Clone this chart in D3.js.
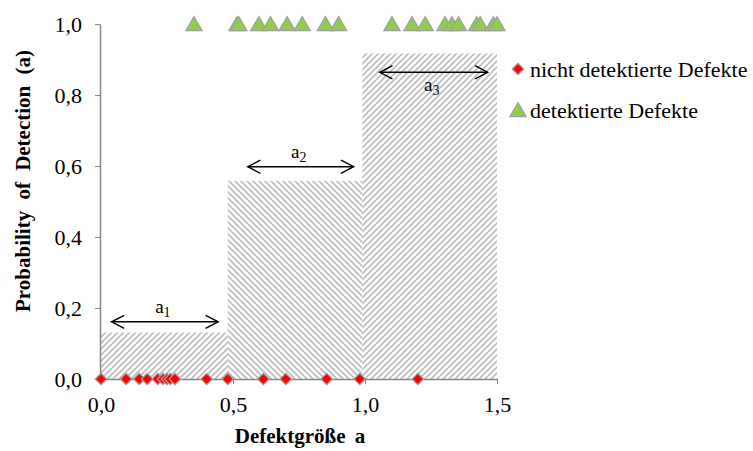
<!DOCTYPE html>
<html lang="de">
<head>
<meta charset="UTF-8">
<title>Probability of Detection</title>
<style>
  body { margin: 0; background: #fff; }
  svg { display: block; }
  svg text { font-family: 'Liberation Serif', 'Times New Roman', serif; fill: #000; }
  .axis path, .axis line { stroke: #868686; }
  .axis text { font-size: 22px; }
</style>
</head>
<body>
<svg width="753" height="451"></svg>
<script src="https://d3js.org/d3.v7.min.js"></script>
<script>
// Stufen der POD-Kurve (Klassengrenzen und Höhe je Klasse)
const binEdges = [0, 0.48, 0.99, 1.5];
const binPod = [0.131, 0.558, 0.917];
const binHatch = ["/", "\\", "/"];

// nicht detektierte Defekte (POD = 0)
const missed = [0.0, 0.095, 0.145, 0.175, 0.215, 0.235, 0.25, 0.262, 0.28, 0.40, 0.48, 0.615, 0.70, 0.855, 0.98, 1.20];
// detektierte Defekte (POD = 1)
const hits = [0.352, 0.515, 0.522, 0.598, 0.642, 0.705, 0.762, 0.85, 0.90, 1.102, 1.178, 1.228, 1.303, 1.329, 1.354, 1.423, 1.436, 1.486, 1.5];

// Pfeile a1..a3: von, bis, Höhe
const arrowLabels = ["1", "2", "3"];
const arrowFrom = [0.04, 0.556, 1.056];
const arrowTo = [0.444, 0.957, 1.465];
const arrowY = [0.161, 0.598, 0.864];

const xTicks = [0, 0.5, 1.0, 1.5];
const yTicks = [0, 0.2, 0.4, 0.6, 0.8, 1.0];

const svg = d3.select("svg");
const x = d3.scaleLinear().domain([0, 1.5]).range([101, 497]);
const y = d3.scaleLinear().domain([0, 1]).range([379, 24]);
const fmt = d => d3.format(".1f")(d).replace(".", ",");
const serif = "'Liberation Serif', 'Times New Roman', serif";

// Schraffuren
const defs = svg.append("defs");
[["hatchR", "M-1,1 l2,-2 M0,6 l6,-6 M5,7 l2,-2"], ["hatchL", "M-1,5 l2,2 M0,0 l6,6 M5,-1 l2,2"]].forEach(([id, p]) => {
  const pat = defs.append("pattern").attr("id", id)
    .attr("patternUnits", "userSpaceOnUse").attr("width", 6).attr("height", 6);
  pat.append("rect").attr("width", 6).attr("height", 6).attr("fill", "#fff");
  pat.append("path").attr("d", p).attr("stroke", "#bcbcbc").attr("stroke-width", 1.6);
});

svg.append("g").selectAll("rect")
  .data(binPod)
  .enter().append("rect")
  .attr("x", (d, i) => x(binEdges[i]))
  .attr("width", (d, i) => x(binEdges[i + 1]) - x(binEdges[i]))
  .attr("y", d => y(d))
  .attr("height", d => y(0) - y(d))
  .attr("fill", (d, i) => binHatch[i] === "/" ? "url(#hatchR)" : "url(#hatchL)");

// Achsen
svg.append("g").attr("class", "axis")
  .attr("transform", `translate(0,${y(0)})`)
  .call(d3.axisBottom(x).tickValues(xTicks).tickFormat(fmt).tickSize(5).tickSizeOuter(0).tickPadding(12))
  .attr("font-family", serif).attr("font-size", 22);
svg.append("g").attr("class", "axis")
  .attr("transform", `translate(${x(0) - 1},0)`)
  .call(d3.axisLeft(y).tickValues(yTicks).tickFormat(fmt).tickSize(5).tickSizeOuter(0).tickPadding(13))
  .attr("font-family", serif).attr("font-size", 22);
svg.selectAll(".axis .domain").attr("stroke-width", 1.5);

// Pfeile
defs.append("marker").attr("id", "arr").attr("viewBox", "0 0 16 16")
  .attr("refX", 14.5).attr("refY", 8).attr("markerWidth", 15).attr("markerHeight", 15)
  .attr("markerUnits", "userSpaceOnUse").attr("orient", "auto-start-reverse")
  .append("path").attr("d", "M1,1 L14.5,8 L1,15").attr("fill", "none").attr("stroke", "#000").attr("stroke-width", 1.5);

const arr = svg.append("g").selectAll("g").data(arrowLabels).enter().append("g");
arr.append("line")
  .attr("x1", (d, i) => x(arrowFrom[i])).attr("x2", (d, i) => x(arrowTo[i]))
  .attr("y1", (d, i) => y(arrowY[i])).attr("y2", (d, i) => y(arrowY[i]))
  .attr("stroke", "#000").attr("stroke-width", 1.5)
  .attr("marker-start", "url(#arr)").attr("marker-end", "url(#arr)");
const lab = arr.append("text")
  .attr("x", (d, i) => (x(arrowFrom[i]) + x(arrowTo[i])) / 2 - 2)
  .attr("y", (d, i) => y(arrowY[i]) + (i === 2 ? 19 : -9))
  .attr("text-anchor", "middle").attr("font-size", 19);
lab.append("tspan").text("a");
lab.append("tspan").attr("dy", 4).attr("font-size", 14).text(d => d);

// Marker
const diamond = d3.symbol().type(d3.symbolDiamond2).size(85);
const tri = d3.symbol().type(d3.symbolTriangle).size(115);

svg.append("g").selectAll("path").data(missed).enter().append("path")
  .attr("d", diamond)
  .attr("transform", d => `translate(${x(d)},${y(0)})`)
  .attr("fill", "#ff0000").attr("stroke", "#a0a0a0").attr("stroke-width", 1.2);

svg.append("g").selectAll("path").data(hits).enter().append("path")
  .attr("d", tri)
  .attr("transform", d => `translate(${x(d)},${y(1) + 2})`)
  .attr("fill", "#8fce4a").attr("stroke", "#a0a0a0").attr("stroke-width", 1.2);

// Legende
const leg = svg.append("g");
leg.append("path").attr("d", diamond).attr("transform", "translate(518,69)")
  .attr("fill", "#ff0000").attr("stroke", "#a0a0a0").attr("stroke-width", 1.2);
leg.append("text").attr("x", 530).attr("y", 77).attr("font-size", 22).text("nicht detektierte Defekte");
leg.append("path").attr("d", tri).attr("transform", "translate(518,112)")
  .attr("fill", "#8fce4a").attr("stroke", "#a0a0a0").attr("stroke-width", 1.2);
leg.append("text").attr("x", 530).attr("y", 118).attr("font-size", 22).text("detektierte Defekte");

// Achsentitel
svg.append("text").attr("x", 300).attr("y", 443).attr("text-anchor", "middle")
  .attr("font-size", 21).attr("font-weight", "bold").attr("word-spacing", 4)
  .text("Defektgröße a");
svg.append("text").attr("transform", "translate(30,181) rotate(-90)").attr("text-anchor", "middle")
  .attr("font-size", 21).attr("font-weight", "bold").attr("word-spacing", 6)
  .text("Probability of Detection (a)");
</script>
</body>
</html>
